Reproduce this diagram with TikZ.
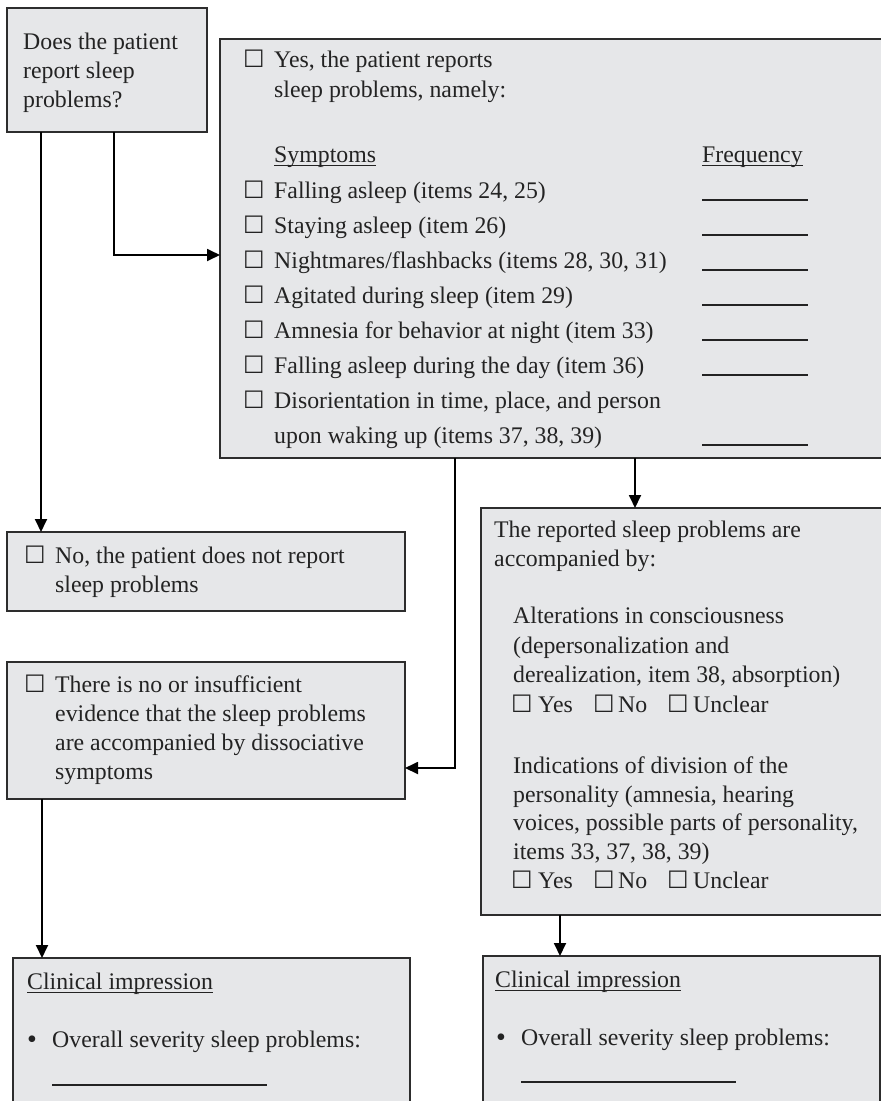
\documentclass[tikz,border=0pt]{standalone}
\usepackage{fontspec}
\setmainfont{Liberation Serif}
\newfontfamily\symfont{DejaVu Sans}
\usetikzlibrary{arrows.meta,calc}
\definecolor{boxfill}{RGB}{230,231,233}
\definecolor{boxline}{RGB}{45,45,45}
\definecolor{ink}{RGB}{35,35,35}

\begin{document}
\begin{tikzpicture}[x=1pt,y=-1pt,
  panel/.style={draw=boxline, line width=1.6pt, fill=boxfill, rectangle,
    inner sep=0pt, outer sep=0pt, anchor=north west},
  txt/.style={anchor=base west, inner sep=0pt, text=ink,
    font=\fontsize{23.8}{29}\selectfont},
  chk/.style={anchor=base west, inner sep=0pt, text=ink,
    font=\symfont\fontsize{24}{24}\selectfont},
  flow/.style={draw=black, line width=1.8pt, -{Triangle[length=13pt,width=12pt]}},
  blank/.style={draw=ink, line width=1.2pt},
  uline/.style={draw=ink, line width=1pt},
]
\clip (0,0) rectangle (881,1101);
\fill[white] (0,0) rectangle (881,1101);

% ---- panels ----
\node[panel, minimum width=200pt, minimum height=124pt] (ask) at (7,8) {};
\node[panel, minimum width=680pt, minimum height=419pt] (yes) at (220,39) {};
\node[panel, minimum width=398pt, minimum height=79pt] (no) at (7,532) {};
\node[panel, minimum width=398pt, minimum height=137pt] (insuff) at (7,662) {};
\node[panel, minimum width=420pt, minimum height=407pt] (accomp) at (481,508) {};
\node[panel, minimum width=397pt, minimum height=160pt] (impR) at (483,956) {};
\node[panel, minimum width=397pt, minimum height=160pt] (impL) at (13,958) {};

% ---- connectors ----
\coordinate (a2c) at ($(ask.south west)+(34,0)$);
\coordinate (a2b) at ($(ask.south west)+(107,0)$);
\coordinate (b2e) at ($(yes.south west)+(415,0)$);
\coordinate (b2d) at ($(yes.south west)+(235,0)$);
\coordinate (d2g) at ($(insuff.south west)+(35,0)$);
\coordinate (e2f) at ($(accomp.south west)+(79,0)$);
\draw[flow] (a2c) -- (a2c |- no.north);
\draw[flow] (a2b) |- ($(yes.north west)+(0,216)$);
\draw[flow] (b2e) -- (b2e |- accomp.north);
\draw[flow] (b2d) |- ($(insuff.north east)+(0,106)$);
\draw[flow] (d2g) -- (d2g |- impL.north);
\draw[flow] (e2f) -- (e2f |- impR.north);

% ---- question ----
\node[txt] (q1) at (23,49) {Does the patient};
\node[txt] (q2) at (23,78) {report sleep};
\node[txt] (q3) at (23,107) {problems?};

% ---- yes panel ----
\node[chk] (yc) at (243,67) {☐};
\node[txt] (y1) at (274,67) {Yes, the patient reports};
\node[txt] (y2) at (274,97) {sleep problems, namely:};
\node[txt] (sym) at (274,162) {Symptoms};
\node[txt] (frq) at (702,162) {Frequency};
\draw[uline] ([yshift=-3pt]sym.base west) -- ([yshift=-3pt]sym.base east);
\draw[uline] ([yshift=-3pt]frq.base west) -- ([yshift=-3pt]frq.base east);

\node[chk] (s1c) at (243,198) {☐};
\node[txt] (s1) at (274,198) {Falling asleep (items 24, 25)};
\node[chk] (s2c) at (243,233) {☐};
\node[txt] (s2) at (274,233) {Staying asleep (item 26)};
\node[chk] (s3c) at (243,268) {☐};
\node[txt] (s3) at (274,268) {Nightmares/flashbacks (items 28, 30, 31)};
\node[chk] (s4c) at (243,303) {☐};
\node[txt] (s4) at (274,303) {Agitated during sleep (item 29)};
\node[chk] (s5c) at (243,338) {☐};
\node[txt] (s5) at (274,338) {Amnesia for behavior at night (item 33)};
\node[chk] (s6c) at (243,373) {☐};
\node[txt] (s6) at (274,373) {Falling asleep during the day (item 36)};
\node[chk] (s7c) at (243,408) {☐};
\node[txt] (s7) at (274,408) {Disorientation in time, place, and person};
\node[txt] (s7b) at (274,443) {upon waking up (items 37, 38, 39)};

\foreach \y in {200,235,270,305,340,375,445}
  \draw[blank] (702,\y) -- (808,\y);

% ---- no panel ----
\node[chk] (nc) at (24,563) {☐};
\node[txt] (n1) at (55,563) {No, the patient does not report};
\node[txt] (n2) at (55,592) {sleep problems};

% ---- insufficient evidence panel ----
\node[chk] (ic) at (24,692) {☐};
\node[txt] (i1) at (55,692) {There is no or insufficient};
\node[txt] (i2) at (55,721) {evidence that the sleep problems};
\node[txt] (i3) at (55,750) {are accompanied by dissociative};
\node[txt] (i4) at (55,779) {symptoms};

% ---- accompanied-by panel ----
\node[txt] (e1) at (494,537) {The reported sleep problems are};
\node[txt] (e2) at (494,566) {accompanied by:};
\node[txt] (e3) at (513,623) {Alterations in consciousness};
\node[txt] (e4) at (513,653) {(depersonalization and};
\node[txt] (e5) at (513,682) {derealization, item 38, absorption)};
\node[chk] (e6c1) at (511,712) {☐};
\node[txt] (e6a) at (538,712) {Yes};
\node[chk] (e6c2) at (593,712) {☐};
\node[txt] (e6b) at (618,712) {No};
\node[chk] (e6c3) at (667,712) {☐};
\node[txt] (e6c) at (693,712) {Unclear};
\node[txt] (e7) at (513,773) {Indications of division of the};
\node[txt] (e8) at (513,802) {personality (amnesia, hearing};
\node[txt] (e9) at (513,830) {voices, possible parts of personality,};
\node[txt] (e10) at (513,859) {items 33, 37, 38, 39)};
\node[chk] (e11c1) at (511,888) {☐};
\node[txt] (e11a) at (538,888) {Yes};
\node[chk] (e11c2) at (593,888) {☐};
\node[txt] (e11b) at (618,888) {No};
\node[chk] (e11c3) at (667,888) {☐};
\node[txt] (e11c) at (693,888) {Unclear};

% ---- clinical impression, left ----
\node[txt] (gl) at (27,989) {Clinical impression};
\draw[uline] ([yshift=-3pt]gl.base west) -- ([yshift=-3pt]gl.base east);
\node[txt, font=\fontsize{28}{29}\selectfont] (gb) at (27,1048) {•};
\node[txt] (gt) at (52,1047) {Overall severity sleep problems:};
\draw[blank] (52,1085) -- (267,1085);

% ---- clinical impression, right ----
\node[txt] (fl) at (495,987) {Clinical impression};
\draw[uline] ([yshift=-3pt]fl.base west) -- ([yshift=-3pt]fl.base east);
\node[txt, font=\fontsize{28}{29}\selectfont] (fb) at (496,1046) {•};
\node[txt] (ft) at (521,1045) {Overall severity sleep problems:};
\draw[blank] (521,1082) -- (736,1082);
\end{tikzpicture}
\end{document}
